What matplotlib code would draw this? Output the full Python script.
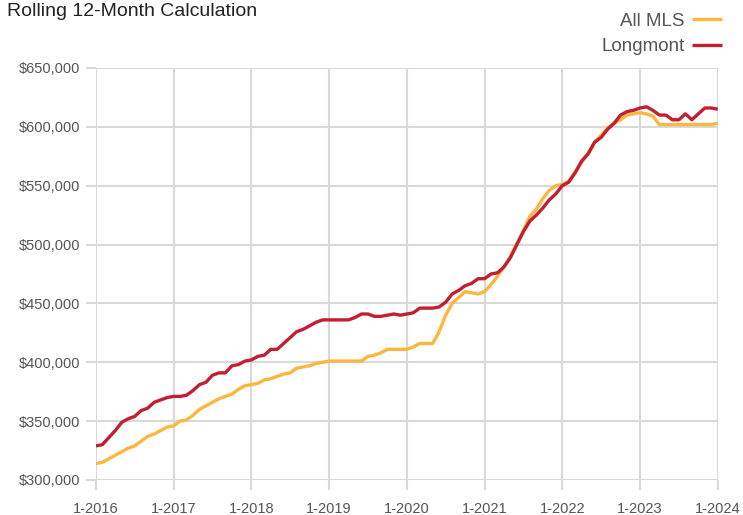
import matplotlib
matplotlib.use("Agg")
import matplotlib.pyplot as plt
import numpy as np

# monthly rolling 12-month values, Jan 2016 .. Jan 2024 (in $1,000)
all_mls = [
    314, 315, 318, 321, 324, 327, 329, 333, 337, 339, 342, 345,
    346, 350, 351, 355, 360, 363, 366, 369, 371, 373, 377, 380,
    381, 382, 385, 386, 388, 390, 391, 395, 396, 397, 399, 400,
    401, 401, 401, 401, 401, 401, 405, 406, 408, 411, 411, 411,
    411, 413, 416, 416, 416, 426, 440, 450, 455, 460, 459, 458,
    460, 466, 473, 481, 490, 501, 512, 524, 530, 539, 546, 550,
    551, 554, 562, 570, 578, 587, 593, 599, 603, 606, 610, 611,
    612, 611, 609, 602, 602, 602, 602, 602, 602, 602, 602, 602,
    603,
]
longmont = [
    329, 330, 336, 342, 349, 352, 354, 359, 361, 366, 368, 370,
    371, 371, 372, 376, 381, 383, 389, 391, 391, 397, 398, 401,
    402, 405, 406, 411, 411, 416, 421, 426, 428, 431, 434, 436,
    436, 436, 436, 436, 438, 441, 441, 439, 439, 440, 441, 440,
    441, 442, 446, 446, 446, 447, 451, 458, 461, 465, 467, 471,
    471, 475, 476, 481, 489, 500, 511, 520, 525, 531, 538, 543,
    550, 553, 561, 571, 577, 587, 591, 598, 603, 610, 613, 614,
    616, 617, 614, 610, 610, 606, 606, 611, 606, 611, 616, 616,
    615,
]
tick_labels = ["1-2016", "1-2017", "1-2018", "1-2019", "1-2020",
               "1-2021", "1-2022", "1-2023", "1-2024"]

plt.rcParams["font.family"] = ["Liberation Sans", "DejaVu Sans"]

months = np.arange(len(all_mls))
fig = plt.figure(figsize=(7.43, 5.15), dpi=100)
ax = fig.add_axes([0.129, 0.068, 0.837, 0.8])

ax.plot(months, np.array(all_mls) * 1000, color="#FDB73E", lw=2.4,
        label="All MLS", solid_capstyle="butt")
ax.plot(months, np.array(longmont) * 1000, color="#C21F32", lw=2.4,
        label="Longmont", solid_capstyle="butt")

ax.set_xlim(0, 96)
ax.set_ylim(300000, 650000)
ax.set_xticks(np.arange(0, 97, 12))
ax.set_xticklabels(tick_labels)
yt = np.arange(300000, 650001, 50000)
ax.set_yticks(yt)
ax.set_yticklabels(["${:,.0f}".format(v) for v in yt])

for s in ax.spines.values():
    s.set_visible(False)
ax.grid(True, color="#d9d9d9", lw=1.5)
ax.set_axisbelow(True)
ax.tick_params(axis="both", colors="#d9d9d9", length=7, width=1.5,
               labelcolor="#555555", labelsize=10.5)
ax.tick_params(axis="x", pad=9)
ax.tick_params(axis="y", pad=4)

fig.text(0.01, 0.995, "Rolling 12-Month Calculation", fontsize=14,
         color="#222222", va="top", ha="left")

fig.legend(loc="upper right", bbox_to_anchor=(0.995, 1.008),
           markerfirst=False, frameon=False, handlelength=1.6,
           handletextpad=0.4, labelspacing=0.45, fontsize=13.5,
           labelcolor="#555555")

fig.savefig("out.png", dpi=100)
